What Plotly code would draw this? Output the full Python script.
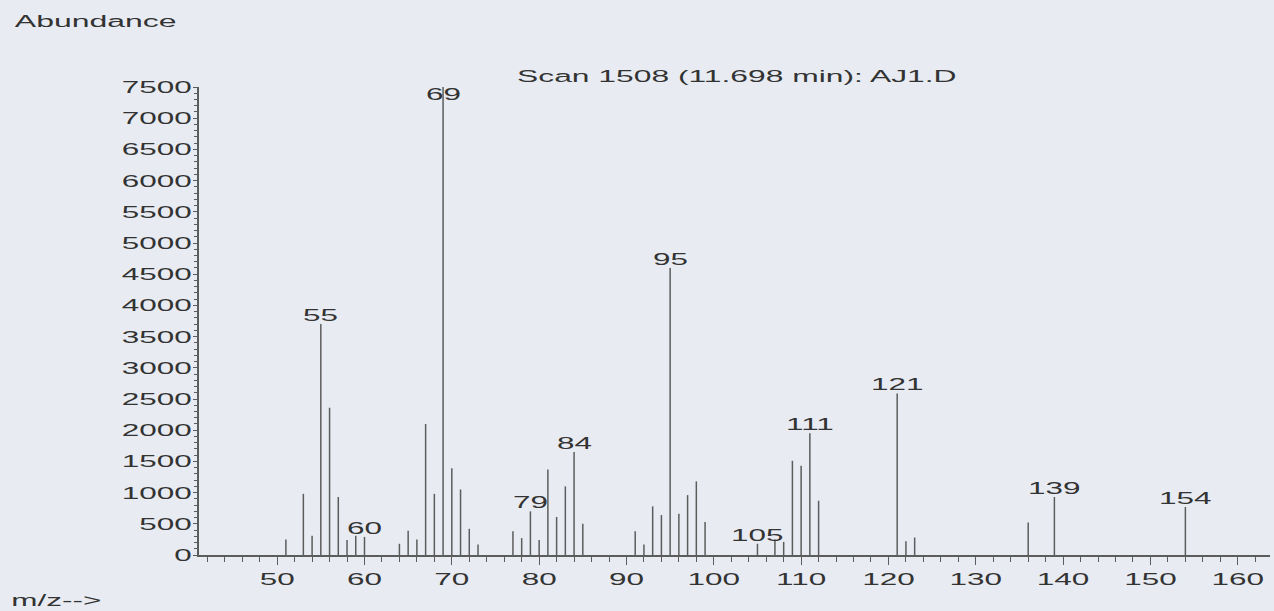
import plotly.graph_objects as go

# ---- data ----
mz = [51, 53, 54, 55, 56, 57, 58, 59, 60, 64, 65, 66, 67, 68, 69, 70, 71, 72, 73,
      77, 78, 79, 80, 81, 82, 83, 84, 85, 91, 92, 93, 94, 95, 96, 97, 98, 99,
      105, 107, 108, 109, 110, 111, 112, 121, 122, 123, 136, 139, 154]
abundance = [250, 980, 310, 3700, 2360, 930, 240, 310, 290, 180, 390, 250, 2100, 980, 7550, 1390, 1050, 420, 170,
             380, 270, 700, 240, 1370, 610, 1100, 1650, 500, 380, 170, 780, 640, 4600, 660, 960, 1180, 530,
             180, 250, 210, 1510, 1430, 1950, 870, 2590, 220, 280, 520, 930, 770]
labeled_mz = [55, 60, 69, 79, 84, 95, 105, 111, 121, 139, 154]

title_text = "Scan 1508 (11.698 min): AJ1.D"
y_title = "Abundance"
x_title = "m/z-->"

x_range = [41.05, 163.69]
y_range = [0, 7500]

BG = "#e8ecf2"
INK = "#333333"
STICK = "#5c5c5c"
FONT = "Liberation Sans, Arial, sans-serif"
FS = 17

# build stick segments from the data
xs, ys = [], []
for m, a in zip(mz, abundance):
    xs += [m, m, None]
    ys += [0, a, None]

fig = go.Figure()
fig.add_trace(go.Scatter(x=xs, y=ys, mode="lines",
                         line=dict(color=STICK, width=1.5),
                         hoverinfo="skip", showlegend=False, cliponaxis=False))

annotations = []
lookup = dict(zip(mz, abundance))
for m in labeled_mz:
    a = lookup[m]
    if a > y_range[1]:
        annotations.append(dict(x=m, y=y_range[1], xref="x", yref="y", text=str(m),
                                showarrow=False, yanchor="top", yshift=4,
                                font=dict(size=FS, color=INK, family=FONT)))
    else:
        annotations.append(dict(x=m, y=a, xref="x", yref="y", text=str(m),
                                showarrow=False, yanchor="bottom", yshift=-3,
                                font=dict(size=FS, color=INK, family=FONT)))

annotations.append(dict(x=0.5023, y=1.0235, xref="paper", yref="paper", text=title_text,
                        showarrow=False, xanchor="center", yanchor="middle",
                        font=dict(size=17.2, color=INK, family=FONT)))
annotations.append(dict(x=-0.097, y=1.141, xref="paper", yref="paper", text=y_title,
                        showarrow=False, xanchor="center", yanchor="middle",
                        font=dict(size=17.3, color=INK, family=FONT)))
annotations.append(dict(x=-0.133, y=-0.098, xref="paper", yref="paper", text=x_title,
                        showarrow=False, xanchor="center", yanchor="middle",
                        font=dict(size=17, color=INK, family=FONT)))

fig.update_layout(
    width=1274, height=611,
    margin=dict(l=199, r=4, t=87, b=56),
    paper_bgcolor=BG, plot_bgcolor=BG,
    font=dict(family=FONT, color=INK, size=FS),
    annotations=annotations,
    xaxis=dict(range=x_range, tickmode="linear", tick0=0, dtick=10,
               ticks="outside", ticklen=8, tickwidth=1.3, tickcolor=STICK,
               showline=True, linecolor=STICK, linewidth=1.5,
               showgrid=False, zeroline=False,
               minor=dict(dtick=2, tick0=0, ticks="outside", ticklen=5, tickwidth=1.2,
                          tickcolor=STICK, showgrid=False),
               tickfont=dict(size=FS, color=INK, family=FONT)),
    yaxis=dict(range=y_range, tickmode="linear", tick0=0, dtick=500,
               ticks="outside", ticklen=4, tickwidth=1.3, tickcolor=STICK,
               ticklabelstandoff=-2,
               showline=True, linecolor=STICK, linewidth=1.5,
               showgrid=False, zeroline=False,
               minor=dict(dtick=100, tick0=0, ticks="outside", ticklen=3, tickwidth=1,
                          tickcolor=STICK, showgrid=False),
               tickfont=dict(size=FS, color=INK, family=FONT)),
)

# The scanned original shows horizontally widened lettering; widen the SVG text
# glyphs (text stays real text) after Plotly has drawn the figure.
widen_js = """
var gd = document.getElementById('{plot_id}');
gd.querySelectorAll('svg text').forEach(function(t){
  var w = t.getComputedTextLength();
  if (w > 0) {
    t.setAttribute('textLength', (w * 1.85).toFixed(1));
    t.setAttribute('lengthAdjust', 'spacingAndGlyphs');
  }
});
"""

fig.write_html("out.html", post_script=widen_js)
